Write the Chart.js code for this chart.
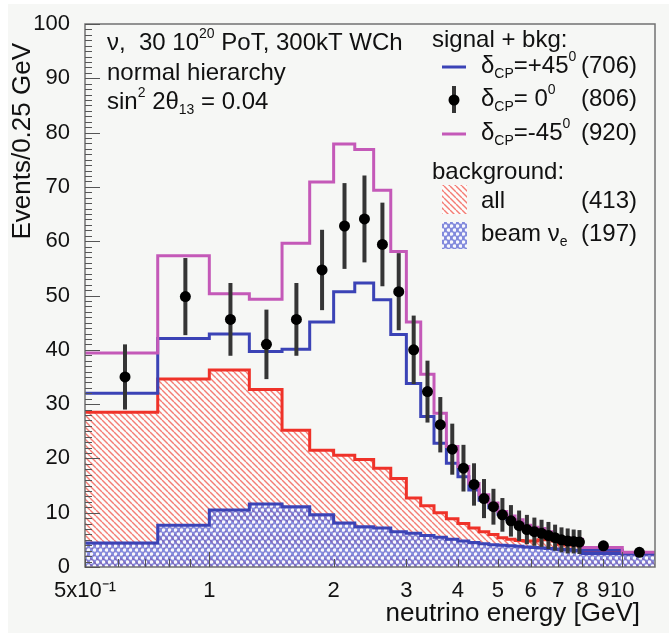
<!DOCTYPE html>
<html>
<head>
<meta charset="utf-8">
<script src="https://cdn.jsdelivr.net/npm/chart.js@4.4.1/dist/chart.umd.min.js"></script>
<style>
  html, body { margin: 0; padding: 0; background: #fff; }
  #wrap { width: 669px; height: 633px; }
</style>
</head>
<body>
<div id="wrap"><canvas id="nue-chart" width="669" height="633"></canvas></div>
<script>
// bin edges in GeV (0.25 GeV bins up to 8, then two wide bins)
const binEdges = [0.5, 0.75, 1, 1.25, 1.5, 1.75, 2, 2.25, 2.5, 2.75, 3, 3.25, 3.5, 3.75, 4, 4.25,
  4.5, 4.75, 5, 5.25, 5.5, 5.75, 6, 6.25, 6.5, 6.75, 7, 7.25, 7.5, 7.75, 8, 10, 12];

// signal + bkg, delta_CP = +45 deg (blue line)
const dcpPlus45 = [32.0, 42.1, 42.9, 39.7, 40.1, 45.1, 50.7, 52.3, 49.2, 42.8, 33.8, 27.7, 22.8, 19.1,
  16.6, 14.2, 12.3, 10.9, 9.7, 8.8, 8.0, 7.3, 6.8, 6.5, 6.0, 5.3, 4.9, 4.6, 4.5, 4.4, 3.1, 2.5];
// signal + bkg, delta_CP = 0 (points with errors)
const dcpZero = [35.0, 49.8, 45.6, 41.0, 45.6, 54.7, 62.8, 64.1, 59.4, 50.7, 40.0, 32.3, 26.2, 21.7,
  18.2, 15.2, 12.6, 11.1, 9.6, 8.5, 7.6, 6.9, 6.5, 6.2, 5.8, 5.4, 5.0, 4.8, 4.7, 4.6, 3.9, 2.7];
const dcpZeroErr = [6.0, 7.1, 6.7, 6.4, 6.7, 7.4, 7.9, 8.0, 7.7, 7.1, 6.3, 5.7, 5.1, 4.7, 4.3, 3.9,
  3.6, 3.3, 3.1, 2.9, 2.8, 2.7, 2.6, 2.5, 2.5, 2.4, 2.3, 2.3, 2.2, 2.2, 0.7, 0.6];
// signal + bkg, delta_CP = -45 deg (magenta line)
const dcpMinus45 = [39.4, 57.3, 50.3, 49.3, 59.6, 70.9, 77.9, 76.9, 69.4, 58.1, 45.1, 35.5, 28.3, 22.2,
  18.5, 15.4, 13.3, 11.8, 10.2, 9.4, 8.7, 7.7, 7.3, 7.1, 6.5, 5.6, 5.3, 5.3, 5.2, 5.1, 3.6, 2.7];
// background: all (red hatch) and beam nu_e (blue mesh)
const bkgAll = [28.5, 34.6, 36.3, 32.7, 25.2, 21.5, 20.6, 19.8, 18.2, 16.3, 12.7, 11.3, 10.0, 8.9,
  8.0, 7.2, 6.5, 6.0, 5.4, 5.1, 4.9, 4.8, 4.8, 5.0, 5.2, 4.8, 4.2, 4.1, 4.3, 4.4, 3.0, 2.4];
const bkgBeamNue = [4.4, 7.7, 10.5, 11.6, 11.1, 9.6, 8.1, 7.4, 7.2, 6.5, 6.2, 5.8, 5.5, 5.1, 4.8, 4.5,
  4.3, 4.1, 4.0, 3.9, 3.8, 3.7, 3.6, 3.5, 3.4, 3.3, 3.2, 3.2, 3.1, 3.0, 2.5, 2.4];

const xLabelValues = [0.5, 1, 2, 3, 4, 5, 6, 7, 8, 9, 10];
const xMinorValues = [0.6, 0.7, 0.8, 0.9];
const xRange = [0.5, 12];
const yRange = [0, 100];

const FONT = "'Liberation Sans', Arial, sans-serif";
const COL_BLUE = '#3b43b6';
const COL_MAG = '#c459b8';
const COL_RED = '#ef3229';

// red "\\\" hatching
function makeHatch() {
  const s = 6;
  const c = document.createElement('canvas');
  c.width = s; c.height = s;
  const g = c.getContext('2d');
  g.fillStyle = 'rgba(255,255,255,0.7)';
  g.fillRect(0, 0, s, s);
  g.strokeStyle = 'rgba(240,80,70,0.75)';
  g.lineWidth = 1.4;
  for (let k = -1; k <= 1; k++) {
    g.beginPath();
    g.moveTo(k * s, 0);
    g.lineTo(k * s + s, s);
    g.stroke();
  }
  return g.createPattern(c, 'repeat');
}

// blue mesh with white holes
function makeMesh() {
  const w = 6, h = 8;
  const c = document.createElement('canvas');
  c.width = w; c.height = h;
  const g = c.getContext('2d');
  g.fillStyle = 'rgba(85,95,210,0.72)';
  g.fillRect(0, 0, w, h);
  g.fillStyle = 'rgba(255,255,255,0.95)';
  [[1.5, 2], [4.5, 6]].forEach(([x, y]) => {
    g.beginPath(); g.arc(x, y, 1.8, 0, Math.PI * 2); g.fill();
  });
  return g.createPattern(c, 'repeat');
}

// histogram values -> points at the bin edges for a stepped line
function stepPoints(values) {
  const pts = values.map((v, i) => ({ x: binEdges[i], y: v }));
  pts.push({ x: binEdges[binEdges.length - 1], y: values[values.length - 1] });
  return pts;
}

const centerPoints = dcpZero.map((v, i) => ({ x: (binEdges[i] + binEdges[i + 1]) / 2, y: v }));

// draw a string made of normal / sub / sup parts
function richText(ctx, x, y, parts, size) {
  let cx = x;
  parts.forEach(([t, kind]) => {
    const s = kind ? Math.round(size * 0.6) : size;
    ctx.font = `${s}px ${FONT}`;
    let dy = 0;
    if (kind === 'sup') dy = -size * 0.38;
    if (kind === 'sub') dy = size * 0.32;
    ctx.fillText(t, cx, y + dy);
    cx += ctx.measureText(t).width;
  });
  return cx;
}

const rootStyle = {
  id: 'rootStyle',
  beforeDraw(chart) {
    const ctx = chart.ctx;
    ctx.save();
    ctx.fillStyle = '#ffffff';
    ctx.fillRect(0, 0, chart.width, chart.height);
    ctx.fillStyle = '#f6f7f5';
    ctx.fillRect(8, 4, chart.width - 8, chart.height - 4);
    ctx.restore();
  },
  beforeDatasetDraw(chart, args) {
    if (args.index !== 4) return;
    // error bars under the dots
    const ctx = chart.ctx;
    const xs = chart.scales.x, ys = chart.scales.y;
    ctx.save();
    ctx.strokeStyle = '#353535';
    ctx.lineWidth = 4;
    centerPoints.forEach((p, i) => {
      const px = xs.getPixelForValue(p.x);
      ctx.beginPath();
      ctx.moveTo(px, ys.getPixelForValue(p.y - dcpZeroErr[i]));
      ctx.lineTo(px, ys.getPixelForValue(p.y + dcpZeroErr[i]));
      ctx.stroke();
    });
    ctx.restore();
  },
  afterDraw(chart) {
    const ctx = chart.ctx;
    const a = chart.chartArea;
    const xs = chart.scales.x, ys = chart.scales.y;
    ctx.save();

    // frame
    ctx.strokeStyle = '#727272';
    ctx.lineWidth = 1.5;
    ctx.strokeRect(a.left, a.top, a.right - a.left, a.bottom - a.top);

    // inner ticks
    ctx.strokeStyle = '#555';
    ctx.lineWidth = 1;
    for (let v = yRange[0]; v <= yRange[1]; v++) {
      const py = Math.round(ys.getPixelForValue(v)) + 0.5;
      const len = v % 10 === 0 ? 15 : 7;
      ctx.beginPath(); ctx.moveTo(a.left, py); ctx.lineTo(a.left + len, py); ctx.stroke();
    }
    xLabelValues.concat(xMinorValues).forEach(v => {
      const px = Math.round(xs.getPixelForValue(v)) + 0.5;
      const len = (v === 1 || v === 10) ? 15 : 8;
      ctx.beginPath(); ctx.moveTo(px, a.bottom); ctx.lineTo(px, a.bottom - len); ctx.stroke();
    });

    // axis titles
    ctx.fillStyle = '#111';
    ctx.textBaseline = 'middle';
    ctx.font = `26px ${FONT}`;
    ctx.textAlign = 'right';
    ctx.fillText('neutrino energy [GeV]', 640, 614);
    ctx.save();
    ctx.translate(23, 43);
    ctx.rotate(-Math.PI / 2);
    ctx.fillText('Events/0.25 GeV', 0, 0);
    ctx.restore();

    // info text, top left
    ctx.textAlign = 'left';
    richText(ctx, 107, 43, [['ν,  30 10'], ['20', 'sup'], [' PoT, 300kT WCh']], 24);
    richText(ctx, 107, 73, [['normal hierarchy']], 24);
    richText(ctx, 107, 102, [['sin'], ['2', 'sup'], [' 2θ'], ['13', 'sub'], [' = 0.04']], 24);

    // legend
    richText(ctx, 432, 40, [['signal + bkg:']], 24);
    const rows = [
      { y: 66, parts: [['δ'], ['CP', 'sub'], ['=+45'], ['0', 'sup']], n: '(706)' },
      { y: 99, parts: [['δ'], ['CP', 'sub'], ['= 0'], ['0', 'sup']], n: '(806)' },
      { y: 133, parts: [['δ'], ['CP', 'sub'], ['=-45'], ['0', 'sup']], n: '(920)' },
      { y: 201, parts: [['all']], n: '(413)' },
      { y: 234, parts: [['beam ν'], ['e', 'sub']], n: '(197)' }
    ];
    rows.forEach(r => {
      ctx.textAlign = 'left';
      richText(ctx, 481, r.y, r.parts, 24);
      ctx.textAlign = 'right';
      ctx.font = `24px ${FONT}`;
      ctx.fillText(r.n, 637, r.y);
    });
    ctx.textAlign = 'left';
    richText(ctx, 432, 172, [['background:']], 24);

    // legend symbols
    ctx.lineWidth = 3;
    ctx.strokeStyle = COL_BLUE;
    ctx.beginPath(); ctx.moveTo(442, 67); ctx.lineTo(466, 67); ctx.stroke();
    ctx.strokeStyle = COL_MAG;
    ctx.beginPath(); ctx.moveTo(442, 134); ctx.lineTo(466, 134); ctx.stroke();
    ctx.strokeStyle = '#353535';
    ctx.lineWidth = 4;
    ctx.beginPath(); ctx.moveTo(454, 86); ctx.lineTo(454, 113); ctx.stroke();
    ctx.fillStyle = '#000';
    ctx.beginPath(); ctx.arc(454, 100, 5.5, 0, Math.PI * 2); ctx.fill();
    ctx.fillStyle = makeHatch();
    ctx.fillRect(442, 185, 25, 29);
    ctx.fillStyle = makeMesh();
    ctx.fillRect(442, 222, 25, 27);

    ctx.restore();
  }
};

const ctx = document.getElementById('nue-chart');
const hatch = makeHatch();
const mesh = makeMesh();

new Chart(ctx, {
  type: 'line',
  data: {
    datasets: [
      {
        label: 'background: all',
        data: stepPoints(bkgAll),
        stepped: true,
        borderColor: COL_RED,
        borderWidth: 3,
        backgroundColor: hatch,
        fill: 'origin',
        pointRadius: 0,
        order: 5
      },
      {
        label: 'background: beam nu_e',
        data: stepPoints(bkgBeamNue),
        stepped: true,
        borderColor: COL_BLUE,
        borderWidth: 3,
        backgroundColor: mesh,
        fill: 'origin',
        pointRadius: 0,
        order: 4
      },
      {
        label: 'dCP=+45',
        data: stepPoints(dcpPlus45),
        stepped: true,
        borderColor: COL_BLUE,
        borderWidth: 3,
        fill: false,
        pointRadius: 0,
        order: 3
      },
      {
        label: 'dCP=-45',
        data: stepPoints(dcpMinus45),
        stepped: true,
        borderColor: COL_MAG,
        borderWidth: 3,
        fill: false,
        pointRadius: 0,
        order: 2
      },
      {
        label: 'dCP=0',
        data: centerPoints,
        showLine: false,
        pointRadius: 5.5,
        pointBackgroundColor: '#000',
        pointBorderWidth: 0,
        order: 1
      }
    ]
  },
  options: {
    responsive: false,
    animation: false,
    devicePixelRatio: 1,
    layout: { padding: { top: 24, right: 14, left: 0, bottom: 0 } },
    plugins: {
      legend: { display: false },
      tooltip: { enabled: false }
    },
    scales: {
      x: {
        type: 'logarithmic',
        min: xRange[0],
        max: xRange[1],
        grid: { display: false },
        border: { display: false },
        afterBuildTicks: (axis) => { axis.ticks = xLabelValues.map(v => ({ value: v })); },
        afterFit: (axis) => { axis.height = 66; },
        ticks: {
          autoSkip: false,
          maxRotation: 0,
          padding: 3,
          color: '#111',
          font: { family: FONT, size: 22 },
          callback: (v) => v === 0.5 ? '5x10⁻¹' : String(v)
        }
      },
      y: {
        min: yRange[0],
        max: yRange[1],
        grid: { display: false },
        border: { display: false },
        afterFit: (axis) => { axis.width = 85; },
        ticks: {
          stepSize: 10,
          padding: 7,
          color: '#111',
          font: { family: FONT, size: 22 }
        }
      }
    }
  },
  plugins: [rootStyle]
});
</script>
</body>
</html>
